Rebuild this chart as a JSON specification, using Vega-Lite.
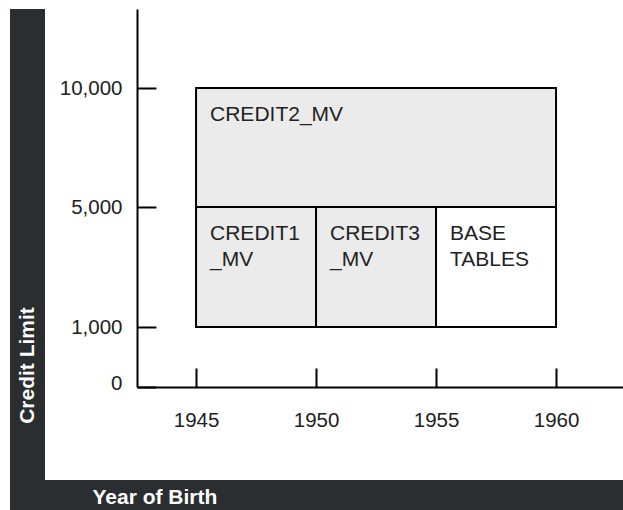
{
  "$schema": "https://vega.github.io/schema/vega-lite/v6.json",
  "padding": {"left": 10, "top": 9, "right": 0, "bottom": 0},
  "background": "white",
  "bounds": "full",
  "spacing": 0,
  "config": {"view": {"stroke": null}, "font": "Liberation Sans"},
  "vconcat": [
    {
      "bounds": "flush",
      "spacing": 92,
      "hconcat": [
        {
          "width": 35,
          "height": 471,
          "view": {"fill": "#2b2e31", "stroke": null},
          "data": {"values": [{"v": 0}]},
          "mark": {"type": "point", "opacity": 0},
          "encoding": {}
        },
        {
          "width": 486,
          "height": 378,
          "data": {
            "values": [
              {"label": "CREDIT2_MV", "x0": 1945, "x1": 1960, "y0": 5000, "y1": 10000, "kind": "view"},
              {"label": "CREDIT1\n_MV", "x0": 1945, "x1": 1950, "y0": 1000, "y1": 5000, "kind": "view"},
              {"label": "CREDIT3\n_MV", "x0": 1950, "x1": 1955, "y0": 1000, "y1": 5000, "kind": "view"},
              {"label": "BASE\nTABLES", "x0": 1955, "x1": 1960, "y0": 1000, "y1": 5000, "kind": "base"}
            ]
          },
          "layer": [
            {
              "mark": {"type": "rect", "stroke": "black", "strokeWidth": 2},
              "encoding": {
                "x": {
                  "field": "x0", "type": "quantitative",
                  "scale": {"domain": [1942.54, 1962.79], "nice": false, "zero": false},
                  "axis": {
                    "title": "Year of Birth", "titleOpacity": 0,
                    "values": [1945, 1950, 1955, 1960], "format": "d",
                    "grid": false, "labelFlush": false,
                    "domainColor": "black", "domainWidth": 2,
                    "tickColor": "black", "tickWidth": 2, "tickSize": -19,
                    "labelPadding": 42, "labelFontSize": 20.5, "labelColor": "#222"
                  }
                },
                "x2": {"field": "x1"},
                "y": {
                  "field": "y0", "type": "quantitative",
                  "scale": {"domain": [0, 1000, 5000, 10000, 13320], "range": [378, 318, 198, 79, 0], "nice": false, "zero": false},
                  "axis": {
                    "title": "Credit Limit",
                    "values": [0, 1000, 5000, 10000],
                    "labelExpr": "format(datum.value, ',')",
                    "labelOffset": {"condition": {"test": "datum.value === 0", "value": -4}, "value": 0},
                    "grid": false,
                    "domainColor": "black", "domainWidth": 2,
                    "tickColor": "black", "tickWidth": 2, "tickSize": -19,
                    "labelPadding": 34, "labelFontSize": 20.5, "labelColor": "#222",
                    "titleColor": "white", "titleFontSize": 21, "titleFontWeight": "bold",
                    "titleAngle": 270, "titleX": -110, "titleY": 356,
                    "titleAlign": "center", "titleBaseline": "middle"
                  }
                },
                "y2": {"field": "y1"},
                "fill": {
                  "field": "kind", "type": "nominal",
                  "scale": {"domain": ["view", "base"], "range": ["#ebebeb", "#ffffff"]},
                  "legend": null
                }
              }
            },
            {
              "mark": {
                "type": "text", "align": "left", "baseline": "top",
                "dx": 14, "dy": 16, "fontSize": 21, "lineHeight": 26,
                "lineBreak": "\n", "color": "#222"
              },
              "encoding": {
                "x": {"field": "x0", "type": "quantitative", "title": "Year of Birth"},
                "y": {"field": "y1", "type": "quantitative", "title": "Credit Limit"},
                "text": {"field": "label"}
              }
            }
          ]
        }
      ]
    },
    {
      "width": 613,
      "height": 30,
      "view": {"fill": "#2b2e31", "stroke": null},
      "data": {"values": [{"v": 0}]},
      "mark": {"type": "point", "opacity": 0},
      "encoding": {
        "x": {
          "field": "v", "type": "quantitative",
          "axis": {
            "title": "Year of Birth", "orient": "top",
            "domain": false, "ticks": false, "labels": false, "grid": false,
            "titleColor": "white", "titleFontSize": 21, "titleFontWeight": "bold",
            "titleX": 82, "titleY": 17, "titleAlign": "left", "titleBaseline": "middle",
            "titleAnchor": "start"
          }
        }
      }
    }
  ]
}
